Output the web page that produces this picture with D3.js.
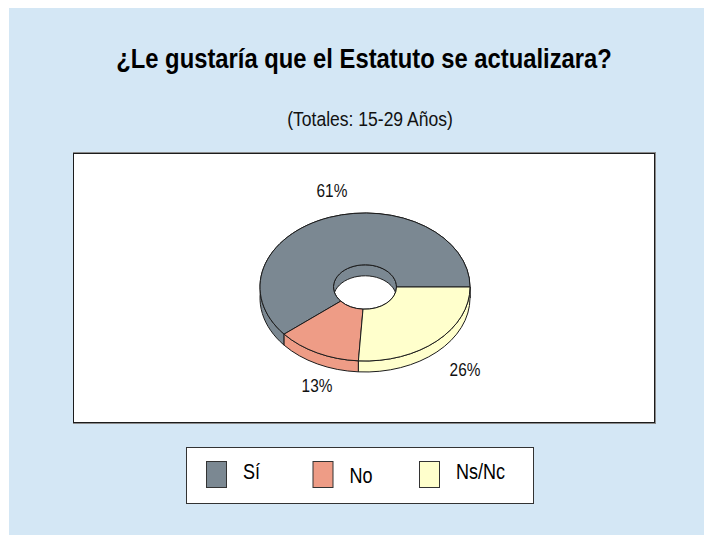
<!DOCTYPE html>
<html>
<head>
<meta charset="utf-8">
<script src="https://cdn.jsdelivr.net/npm/d3@7"></script>
<style>
  body { margin: 0; background: #fff; }
  text { font-family: "Liberation Sans Narrow", "Arial Narrow", "Liberation Sans", Arial, sans-serif; }
</style>
</head>
<body>
<div id="chart"></div>
<script>
// data
var categories = ["Sí", "No", "Ns/Nc"];
var values = [61, 13, 26];
var pct_labels = ["61%", "13%", "26%"];
var colors = ["#7b8892", "#ee9c86", "#ffffcc"];

var title = "¿Le gustaría que el Estatuto se actualizara?";
var subtitle = "(Totales: 15-29 Años)";

var width = 704, height = 535;

// pie geometry
var cx = 365, cy = 287;
var rx = 105, ry = 74;
var inner_ratio = 0.3;
var depth = 11;
var k = ry / rx;
var ri = rx * inner_ratio;
var stroke_col = "#1c1c1c";

var svg = d3.select("#chart").append("svg")
    .attr("width", width).attr("height", height);

// condensed text: a group squeezed horizontally
function addText(parent, x, y, str, size, sx, anchor) {
    var g = parent.append("g")
        .attr("transform", "translate(" + x + "," + y + ") scale(" + sx + ",1)");
    return g.append("text")
        .attr("text-anchor", anchor || "middle")
        .attr("font-size", size)
        .attr("fill", "#000")
        .text(str);
}

// blue panel
svg.append("rect")
    .attr("x", 9).attr("y", 8)
    .attr("width", width - 9).attr("height", height - 8)
    .attr("fill", "#d4e7f5");

// plot box
svg.append("rect")
    .attr("x", 73.5).attr("y", 152.5)
    .attr("width", 582).attr("height", 271)
    .attr("fill", "none").attr("stroke", "#8a8a8a").attr("stroke-width", 1);
svg.append("rect")
    .attr("x", 73.5).attr("y", 153.5)
    .attr("width", 581).attr("height", 269)
    .attr("fill", "#fff").attr("stroke", stroke_col).attr("stroke-width", 1);

// titles
addText(svg, 364, 68, title, 27.5, 0.865).attr("font-weight", "bold");
addText(svg, 370, 126, subtitle, 20.5, 0.855).attr("fill", "#111");

// pie angles: start at 3 o'clock, going counterclockwise on screen
var pie = d3.pie().sort(null).startAngle(0).endAngle(2 * Math.PI);
var arcs = pie(values).map(function (d, i) {
    return { t0: -d.startAngle, t1: -d.endAngle, i: i };
});

var g_pie = svg.append("g")
    .attr("transform", "translate(" + cx + "," + cy + ") scale(1," + k + ")");

var dd = depth / k;

function wallPath(r, a) {
    var p = d3.path();
    p.moveTo(r * Math.cos(a.t0), r * Math.sin(a.t0));
    p.arc(0, 0, r, a.t0, a.t1, true);
    p.lineTo(r * Math.cos(a.t1), r * Math.sin(a.t1) + dd);
    p.arc(0, dd, r, a.t1, a.t0, false);
    p.closePath();
    return p.toString();
}

function topPath(a) {
    var p = d3.path();
    p.moveTo(rx * Math.cos(a.t0), rx * Math.sin(a.t0));
    p.arc(0, 0, rx, a.t0, a.t1, true);
    p.lineTo(ri * Math.cos(a.t1), ri * Math.sin(a.t1));
    p.arc(0, 0, ri, a.t1, a.t0, false);
    p.closePath();
    return p.toString();
}

// side walls (outer + inner)
g_pie.selectAll("path.outer-wall").data(arcs).enter().append("path")
    .attr("class", "outer-wall")
    .attr("d", function (a) { return wallPath(rx, a); })
    .attr("fill", function (a) { return colors[a.i]; })
    .attr("stroke", stroke_col).attr("stroke-width", 1)
    .attr("vector-effect", "non-scaling-stroke");

g_pie.selectAll("path.inner-wall").data(arcs).enter().append("path")
    .attr("class", "inner-wall")
    .attr("d", function (a) { return wallPath(ri, a); })
    .attr("fill", function (a) { return colors[a.i]; })
    .attr("stroke", stroke_col).attr("stroke-width", 1)
    .attr("vector-effect", "non-scaling-stroke");

// top faces
g_pie.selectAll("path.top").data(arcs).enter().append("path")
    .attr("class", "top")
    .attr("d", topPath)
    .attr("fill", function (a) { return colors[a.i]; })
    .attr("stroke", stroke_col).attr("stroke-width", 1)
    .attr("vector-effect", "non-scaling-stroke");

// percentage labels
var label_off = 25;
arcs.forEach(function (a) {
    var m = (a.t0 + a.t1) / 2;
    var s = Math.sin(m);
    var lx_ = cx + (rx + label_off) * Math.cos(m) + 11;
    var ly_ = cy + (ry + label_off) * s + (s > 0 ? depth : -3);
    addText(svg, lx_, ly_, pct_labels[a.i], 17.5, 0.88)
        .attr("dy", "0.35em").attr("fill", "#111");
});

// legend
svg.append("rect")
    .attr("x", 186.5).attr("y", 447.5)
    .attr("width", 347).attr("height", 56)
    .attr("fill", "#fff").attr("stroke", "#333").attr("stroke-width", 1);

var lx = d3.scalePoint().domain(categories).range([206, 419]);

categories.forEach(function (d, i) {
    svg.append("rect")
        .attr("x", lx(d) + 0.5).attr("y", 461.5)
        .attr("width", 20).attr("height", 26)
        .attr("fill", colors[i])
        .attr("stroke", "#333").attr("stroke-width", 1);
    addText(svg, lx(d) + 37, d === "No" ? 483 : 479, d, 22, 0.82, "start");
});
</script>
</body>
</html>
